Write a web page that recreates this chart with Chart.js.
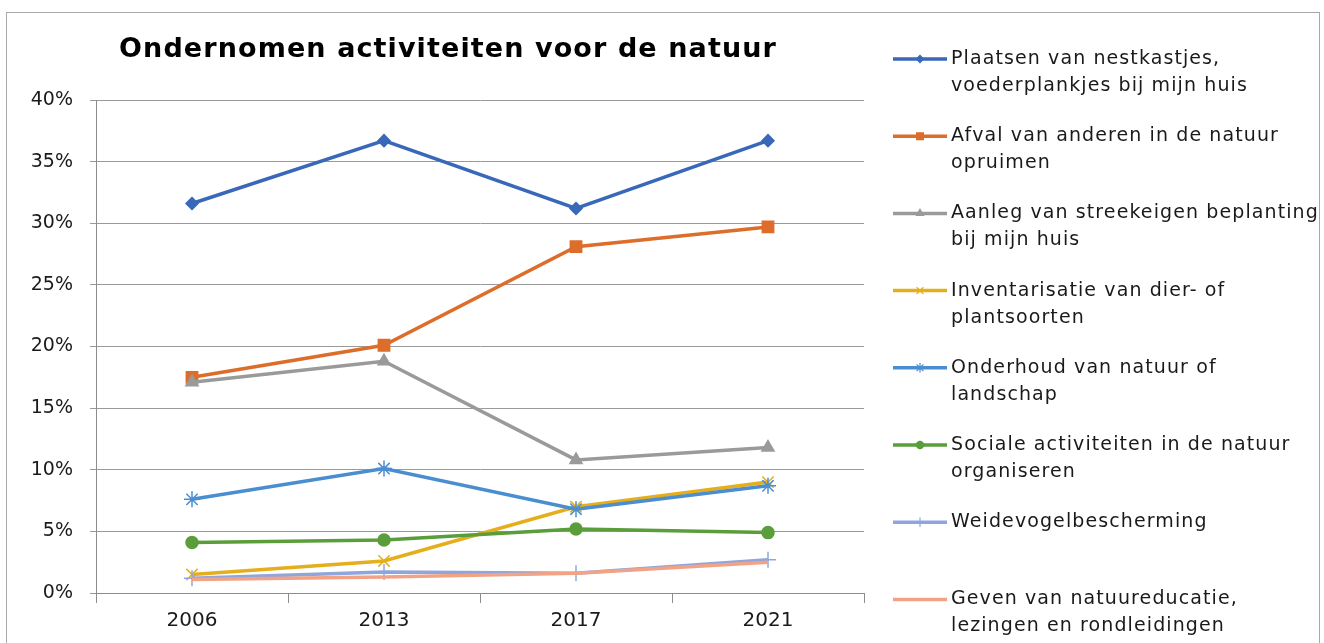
<!DOCTYPE html>
<html lang="nl">
<head>
    <meta charset="UTF-8">
    <title>Ondernomen activiteiten voor de natuur</title>
    <script src="https://cdn.jsdelivr.net/npm/chart.js"></script>
    <style>
        body { margin: 0; background: #fff; }
        canvas { display: block; }
    </style>
</head>
<body>
    <canvas id="natuurChart" width="1324" height="643"></canvas>

    <script>
        const years = ['2006', '2013', '2017', '2021'];
        const yTicks = [0, 5, 10, 15, 20, 25, 30, 35, 40];

        const seriesNames = [
            ['Plaatsen van nestkastjes,', 'voederplankjes bij mijn huis'],
            ['Afval van anderen in de natuur', 'opruimen'],
            ['Aanleg van streekeigen beplanting', 'bij mijn huis'],
            ['Inventarisatie van dier- of', 'plantsoorten'],
            ['Onderhoud van natuur of', 'landschap'],
            ['Sociale activiteiten in de natuur', 'organiseren'],
            ['Weidevogelbescherming'],
            ['Geven van natuureducatie,', 'lezingen en rondleidingen']
        ];

        // percentages per year
        const nestkastjes = [31.6, 36.7, 31.2, 36.7];
        const afval = [17.5, 20.1, 28.1, 29.7];
        const beplanting = [17.1, 18.8, 10.8, 11.8];
        const inventarisatie = [1.5, 2.6, 7.0, 9.0];
        const onderhoud = [7.6, 10.1, 6.8, 8.7];
        const sociale = [4.1, 4.3, 5.2, 4.9];
        const weidevogel = [1.2, 1.7, 1.6, 2.7];
        const educatie = [1.1, 1.3, 1.6, 2.5];

        const seriesValues = [nestkastjes, afval, beplanting, inventarisatie, onderhoud, sociale, weidevogel, educatie];
        const colors = ['#3A68B9', '#DD6D2B', '#9A9A9A', '#E5AE1C', '#4A8ED0', '#5A9E3B', '#8FA6DC', '#F2A386'];
        const markers = ['rectRot', 'rect', 'triangle', 'crossRot', 'star', 'circle', 'cross', false];
        const radii = [6, 8, 7, 8, 8, 6, 8, 0];

        const datasets = seriesValues.map((vals, i) => ({
            label: seriesNames[i].join(' '),
            data: vals,
            borderColor: colors[i],
            backgroundColor: colors[i],
            borderWidth: 3.5,
            pointStyle: markers[i],
            pointRadius: radii[i],
            pointBorderWidth: 1.5,
            pointHoverRadius: radii[i],
            tension: 0,
            order: seriesValues.length - i   // later series on top
        }));

        const FONT = "'DejaVu Sans', Verdana, sans-serif";

        // frame, title and the two-line legend on the right
        const extras = {
            id: 'extras',
            beforeDraw(chart) {
                const ctx = chart.ctx;
                ctx.save();
                ctx.fillStyle = '#fff';
                ctx.fillRect(0, 0, chart.width, chart.height);
                ctx.strokeStyle = '#a8a8a8';
                ctx.lineWidth = 1;
                ctx.strokeRect(6.5, 12.5, 1313, 700);
                ctx.restore();
            },
            afterDraw(chart) {
                const ctx = chart.ctx;
                ctx.save();
                ctx.fillStyle = '#000';
                ctx.font = 'bold 27px ' + FONT;
                ctx.letterSpacing = '1.1px';
                ctx.textAlign = 'center';
                ctx.textBaseline = 'middle';
                ctx.fillText('Ondernomen activiteiten voor de natuur', 448, 50);

                ctx.font = '19px ' + FONT;
                ctx.letterSpacing = '1.1px';
                ctx.textAlign = 'left';
                chart.data.datasets.forEach((ds, i) => {
                    const y = 59 + i * 77.2;
                    ctx.strokeStyle = ds.borderColor;
                    ctx.lineWidth = 3.5;
                    ctx.beginPath();
                    ctx.moveTo(893, y);
                    ctx.lineTo(947, y);
                    ctx.stroke();
                    if (ds.pointStyle) {
                        ctx.fillStyle = ds.backgroundColor;
                        ctx.lineWidth = 1.2;
                        Chart.helpers.drawPoint(ctx, { pointStyle: ds.pointStyle, radius: ds.pointRadius * 0.6, rotation: 0, borderWidth: 1.2 }, 920, y);
                    }
                    ctx.fillStyle = '#1a1a1a';
                    seriesNames[i].forEach((line, k) => ctx.fillText(line, 951, y + k * 27));
                });
                ctx.restore();
            }
        };

        new Chart(document.getElementById('natuurChart'), {
            type: 'line',
            data: { labels: years, datasets: datasets },
            options: {
                responsive: false,
                animation: false,
                layout: { padding: { top: 100, right: 460, bottom: 0, left: 0 } },
                plugins: {
                    legend: { display: false },
                    title: { display: false },
                    tooltip: { enabled: false }
                },
                scales: {
                    x: {
                        offset: true,
                        grid: { drawOnChartArea: false, drawTicks: true, tickLength: 10, color: '#8c8c8c', offset: true },
                        border: { display: true, color: '#8c8c8c', width: 1 },
                        ticks: { color: '#1a1a1a', padding: 6, font: { family: FONT, size: 20 } },
                        afterFit(s) { s.height = 50; }
                    },
                    y: {
                        min: 0,
                        max: 40,
                        afterBuildTicks(s) { s.ticks = yTicks.map(v => ({ value: v })); },
                        grid: { color: '#9a9a9a', lineWidth: 1, tickLength: 6 },
                        border: { display: true, color: '#8c8c8c', width: 1 },
                        ticks: {
                            color: '#1a1a1a',
                            padding: 17,
                            font: { family: FONT, size: 19 },
                            callback: v => v + '%'
                        },
                        afterFit(s) { s.width = 96; }
                    }
                }
            },
            plugins: [extras]
        });
    </script>
</body>
</html>
